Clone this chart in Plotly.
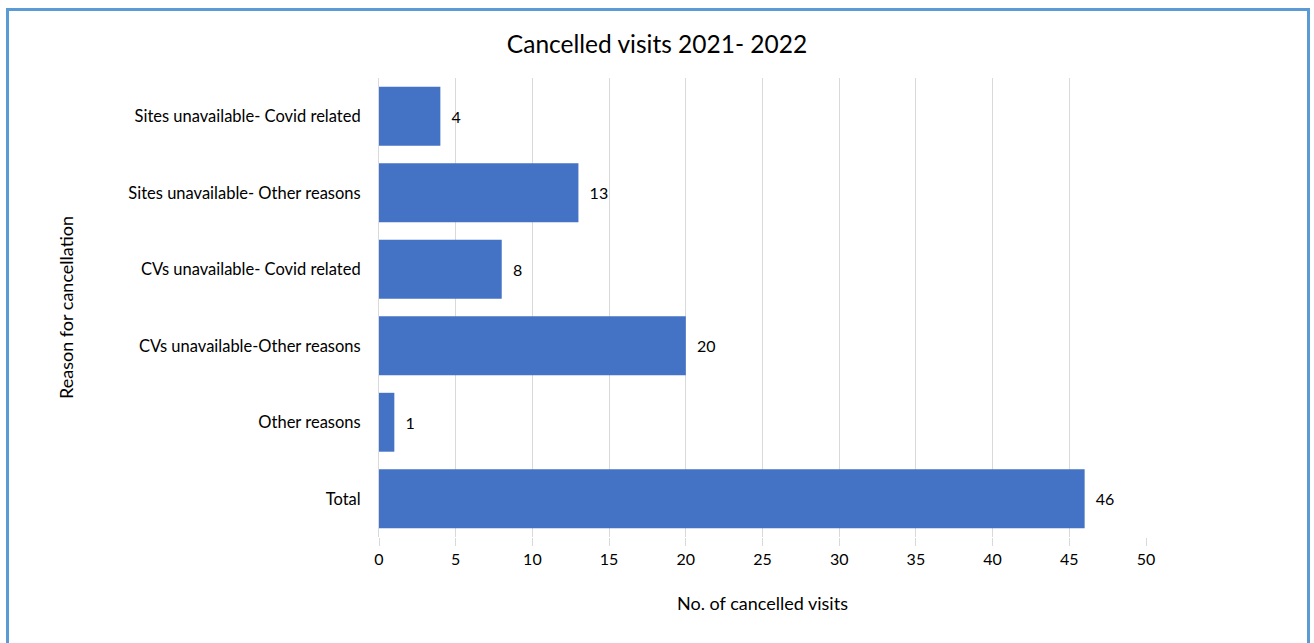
import plotly.graph_objects as go

categories = [
    "Sites unavailable- Covid related",
    "Sites unavailable- Other reasons",
    "CVs unavailable- Covid related",
    "CVs unavailable-Other reasons",
    "Other reasons",
    "Total",
]
values = [4, 13, 8, 20, 1, 46]
x_ticks = [0, 5, 10, 15, 20, 25, 30, 35, 40, 45, 50]

W, H = 1314, 643
L, T = 379, 78
R = W - 1146
B = H - 537
pw, ph = W - L - R, H - T - B

def px_x(p):
    return (p - L) / pw

def px_y(p):
    return (H - B - p) / ph

font = "Lato, Open Sans, sans-serif"

fig = go.Figure(
    go.Bar(
        x=values,
        y=categories,
        orientation="h",
        marker=dict(color="#4472C4", line=dict(width=0)),
        text=[f"  {v}" for v in values],
        textposition="outside",
        textfont=dict(size=16, color="#000000", family=font),
        cliponaxis=False,
    )
)

fig.update_layout(
    width=W,
    height=H,
    margin=dict(l=L, r=R, t=T, b=B),
    paper_bgcolor="white",
    plot_bgcolor="white",
    bargap=0.23,
    showlegend=False,
    font=dict(family=font, size=16, color="#000000"),
    title=dict(
        text="Cancelled visits 2021- 2022",
        x=0.5,
        xanchor="center",
        y=1 - 44 / H,
        yanchor="middle",
        font=dict(size=24.5, family=font, color="#000000"),
    ),
    xaxis=dict(
        range=[0, 50],
        tickvals=x_ticks,
        showgrid=True,
        gridcolor="#D9D9D9",
        gridwidth=1,
        zeroline=False,
        ticks="outside",
        ticklen=8,
        tickcolor="#D9D9D9",
        tickfont=dict(size=16),
        title=dict(text="No. of cancelled visits", font=dict(size=18), standoff=30),
        showline=False,
    ),
    yaxis=dict(
        autorange="reversed",
        showline=True,
        linecolor="#D9D9D9",
        linewidth=1,
        ticks="",
        ticklabelstandoff=14,
        tickfont=dict(size=16.5),
        title=dict(text="Reason for cancellation", font=dict(size=18), standoff=50),
    ),
    shapes=[
        dict(
            type="rect",
            xref="paper",
            yref="paper",
            x0=px_x(7.5),
            x1=px_x(1308.5),
            y0=px_y(660),
            y1=px_y(9.5),
            line=dict(color="#5B9BD5", width=3),
            fillcolor="rgba(0,0,0,0)",
            layer="below",
        )
    ],
)

fig.write_html(
    "out.html",
    config={"displayModeBar": False},
    post_script="document.body.style.margin='0';document.body.style.overflow='hidden';",
)
